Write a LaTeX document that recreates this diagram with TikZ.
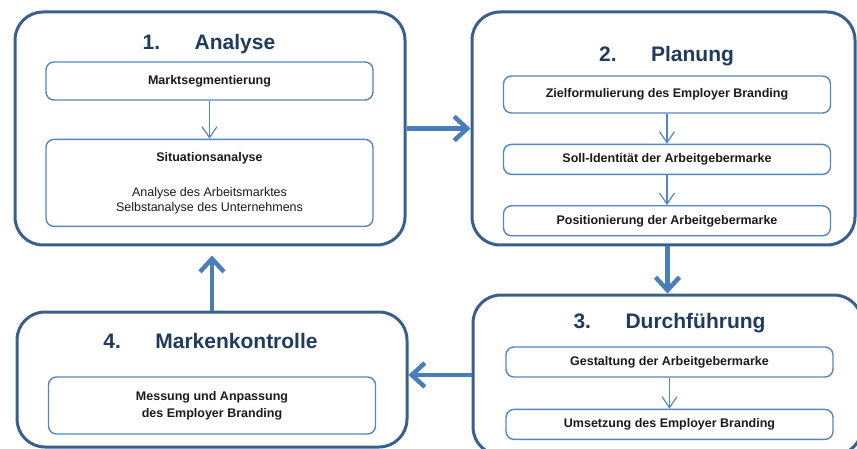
\documentclass[tikz,border=0pt]{standalone}
\usepackage{fontspec}
\setmainfont{Liberation Sans}
\usetikzlibrary{arrows.meta,positioning}

\definecolor{phaseline}{HTML}{3A5F8D}
\definecolor{flowblue}{HTML}{4A7EBB}
\definecolor{stepline}{HTML}{5585C2}
\definecolor{titleblue}{HTML}{1F3B5E}
\definecolor{steptext}{HTML}{1A1A1A}

\begin{document}
\begin{tikzpicture}[x=1pt,y=-1pt,node distance=30pt,
    phase/.style={draw=phaseline,line width=3pt,rounded corners=28pt,inner sep=0pt},
    phasetitle/.style={anchor=base,inner sep=0pt,text=titleblue,font=\fontsize{21}{25}\selectfont\bfseries},
    stepbox/.style={draw=stepline,line width=1.4pt,rounded corners=8pt,minimum width=327pt,
                    inner sep=0pt,align=center,text=steptext,font=\fontsize{12.5}{15}\selectfont},
    bigflow/.style={draw=flowblue,line width=4.5pt,-{Straight Barb[length=13pt,width=24pt,line width=4.5pt]}},
    smallflow/.style={draw=stepline,line width=1.2pt,-{Straight Barb[length=11pt,width=15pt]}}]
    \useasboundingbox (0,0) rectangle (857,449);
    \clip (0,0) rectangle (857,449);

    % phases
    \node[phase,minimum width=390pt,minimum height=233pt] (analyse) at (210,128.5) {};
    \node[phase,minimum width=383pt,minimum height=233pt] (planung) at (663.5,128.5) {};
    \node[phase,minimum width=389pt,minimum height=160pt] (durch) at (667.5,375) {};
    \node[phase,minimum width=390pt,minimum height=135pt] (kontrolle) at (212,379.5) {};

    \node[phasetitle] (analyseT) at (209,50) {\makebox[52pt][l]{1.}Analyse};
    \node[phasetitle] (planungT) at (666.5,61.5) {\makebox[52pt][l]{2.}Planung};
    \node[phasetitle] (durchT) at (669.5,328) {\makebox[52pt][l]{3.}Durchführung};
    \node[phasetitle] (kontrolleT) at (210.5,348) {\makebox[52pt][l]{4.}Markenkontrolle};

    % steps
    \node[stepbox,minimum height=38pt] (markt) at (209.5,81) {\textbf{Marktsegmentierung}};
    \node[stepbox,minimum height=87pt,below=38pt of markt] (situation)
        {\textbf{Situationsanalyse}\\[20pt]Analyse des Arbeitsmarktes\\Selbstanalyse des Unternehmens};

    \node[stepbox,minimum height=37pt] (ziel) at (667,94.5) {\textbf{Zielformulierung des Employer Branding}};
    \node[stepbox,minimum height=30pt,below=30pt of ziel] (soll) {\textbf{Soll-Identität der Arbeitgebermarke}};
    \node[stepbox,minimum height=30pt,below=30pt of soll] (position) {\textbf{Positionierung der Arbeitgebermarke}};

    \node[stepbox,minimum height=30pt] (gestalt) at (669.5,362) {\textbf{Gestaltung der Arbeitgebermarke}};
    \node[stepbox,minimum height=30pt,below=31pt of gestalt] (umsetz) {\textbf{Umsetzung des Employer Branding}};

    \node[stepbox,minimum height=57pt,font=\fontsize{12.5}{17}\selectfont] (messung) at (212,405.5)
        {\textbf{Messung und Anpassung}\\\textbf{des Employer Branding}};

    \draw[smallflow] (markt) -- (situation);
    \draw[smallflow] (ziel) -- (soll);
    \draw[smallflow] (soll) -- (position);
    \draw[smallflow] (gestalt) -- (umsetz);

    % cycle
    \draw[bigflow] (analyse) -- (planung);
    \draw[bigflow] (durch.north |- planung.south) -- (durch.north);
    \draw[bigflow] (durch.west) -- (durch.west -| kontrolle.east);
    \draw[bigflow,shorten >=9pt] (kontrolle.north) -- (kontrolle.north |- analyse.south);
\end{tikzpicture}
\end{document}
